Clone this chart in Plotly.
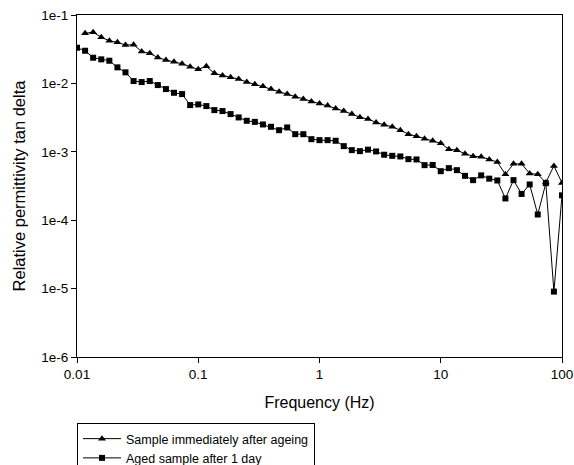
import plotly.graph_objects as go

freq_hz = [
    0.01, 0.01166, 0.01359, 0.01585, 0.01848, 0.02154, 0.02512, 0.02929, 0.03415, 0.03981,
    0.04642, 0.05412, 0.0631, 0.07356, 0.08577,
    0.1, 0.1166, 0.1359, 0.1585, 0.1848, 0.2154, 0.2512, 0.2929, 0.3415, 0.3981,
    0.4642, 0.5412, 0.631, 0.7356, 0.8577,
    1.0, 1.166, 1.359, 1.585, 1.848, 2.154, 2.512, 2.929, 3.415, 3.981,
    4.642, 5.412, 6.31, 7.356, 8.577,
    10.0, 11.66, 13.59, 15.85, 18.48, 21.54, 25.12, 29.29, 34.15, 39.81,
    46.42, 54.12, 63.1, 73.56, 85.77,
    100.0,
]

# Sample immediately after ageing (first frequency not measured)
tan_delta_immediate = [
    None, 0.0540, 0.0560, 0.04717, 0.04206, 0.03984, 0.03638, 0.03675, 0.02922, 0.02751,
    0.02388, 0.02195, 0.02073, 0.01938, 0.01751,
    0.01610, 0.01775, 0.01402, 0.01310, 0.01225, 0.01157, 0.01046, 0.00968, 0.00905, 0.00826,
    0.00754, 0.00698, 0.00637, 0.00590, 0.00546,
    0.00510, 0.00477, 0.00431, 0.00394, 0.00356, 0.00321, 0.00301, 0.00269, 0.00248, 0.00232,
    0.00207, 0.00181, 0.00169, 0.00155, 0.00145,
    0.00133, 0.001094, 0.001057, 0.000933, 0.000864, 0.000844, 0.000773, 0.000710, 0.000468, 0.000666,
    0.000666, 0.000482, 0.000468, 0.000357, 0.000621,
    0.000351,
]

# Aged sample after 1 day
tan_delta_1day = [
    0.03322, 0.03002, 0.02372, 0.02247, 0.02144, 0.01716, 0.01450, 0.01082, 0.01046, 0.01082,
    0.00945, 0.00826, 0.00729, 0.00698, 0.00482,
    0.00493, 0.00466, 0.00407, 0.00394, 0.00356, 0.00318, 0.00284, 0.00274, 0.00251, 0.00232,
    0.00207, 0.00227, 0.00181, 0.00181, 0.00153,
    0.00148, 0.00148, 0.00145, 0.00121, 0.001057, 0.001022, 0.001075, 0.001012, 0.000906, 0.000873,
    0.000855, 0.000781, 0.000773, 0.000638, 0.000642,
    0.000521, 0.000577, 0.000539, 0.000445, 0.000385, 0.000452, 0.000405, 0.000381, 0.000208, 0.000385,
    0.000242, 0.000333, 0.0001212, 0.000348, 0.00000904,
    0.000231,
]

x_tick_vals = [0.01, 0.1, 1, 10, 100]
x_tick_text = ["0.01", "0.1", "1", "10", "100"]
y_tick_vals = [1e-1, 1e-2, 1e-3, 1e-4, 1e-5, 1e-6]
y_tick_text = ["1e-1", "1e-2", "1e-3", "1e-4", "1e-5", "1e-6"]

FONT = "Liberation Sans, Arial, sans-serif"

fig = go.Figure()
fig.add_trace(go.Scatter(
    x=freq_hz, y=tan_delta_immediate, mode="lines+markers",
    name="Sample immediately after ageing",
    line=dict(color="black", width=1),
    marker=dict(symbol="triangle-up", size=7, color="black"),
    connectgaps=False,
))
fig.add_trace(go.Scatter(
    x=freq_hz, y=tan_delta_1day, mode="lines+markers",
    name="Aged sample after 1 day",
    line=dict(color="black", width=1),
    marker=dict(symbol="square", size=6, color="black"),
))

fig.update_layout(
    width=574, height=465,
    margin=dict(l=77, r=12, t=15, b=108, autoexpand=False),
    paper_bgcolor="white", plot_bgcolor="white",
    font=dict(family=FONT, size=13, color="black"),
    showlegend=True,
    legend=dict(
        x=0, y=-0.193, xanchor="left", yanchor="top",
        bordercolor="black", borderwidth=1, bgcolor="white",
        font=dict(size=12.5, family=FONT),
        tracegroupgap=0,
        itemwidth=38,
        entrywidth=258, entrywidthmode="pixels",
    ),
)
fig.update_xaxes(
    type="log", range=[-2, 2],
    tickvals=x_tick_vals, ticktext=x_tick_text,
    ticks="outside", ticklen=5, tickcolor="black",
    showline=True, linecolor="black", linewidth=1, mirror=True,
    showgrid=False, zeroline=False,
    tickfont=dict(size=13.5),
    title=dict(text="Frequency (Hz)", font=dict(size=16), standoff=15),
    automargin=False,
)
fig.update_yaxes(
    type="log", range=[-6, -1],
    tickvals=y_tick_vals, ticktext=y_tick_text,
    ticks="outside", ticklen=5, tickcolor="black",
    showline=True, linecolor="black", linewidth=1, mirror=True,
    showgrid=False, zeroline=False,
    tickfont=dict(size=13.5),
    title=dict(text="Relative permittivity tan delta", font=dict(size=16.5), standoff=11),
    automargin=False,
)

fig.write_html("out.html")
